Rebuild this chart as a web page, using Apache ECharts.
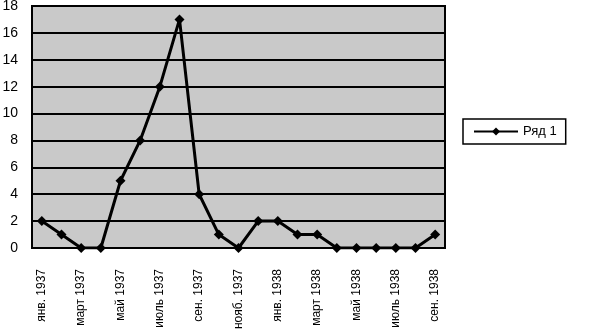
<!DOCTYPE html>
<html><head><meta charset="utf-8">
<script src="https://cdn.jsdelivr.net/npm/echarts@6/dist/echarts.min.js"></script>
<style>html,body{margin:0;padding:0;background:#fff}#c{width:596px;height:329px}</style>
</head><body><div id="c"></div>
<script>
const categories = ['янв. 1937','февр. 1937','март 1937','апр. 1937','май 1937','июнь 1937','июль 1937','авг. 1937','сен. 1937','окт. 1937','нояб. 1937','дек. 1937','янв. 1938','февр. 1938','март 1938','апр. 1938','май 1938','июнь 1938','июль 1938','авг. 1938','сен. 1938'];
const series1 = [2,1,0,0,5,8,12,17,4,1,0,2,2,1,1,0,0,0,0,0,1];
const seriesName = 'Ряд 1';
const yTicks = {min:0, max:18, interval:2};

const chart = echarts.init(document.getElementById('c'), null, {renderer:'canvas'});
chart.setOption({
  animation:false,
  backgroundColor:'#fff',
  grid:{left:32,right:151,top:6,bottom:81,containLabel:false,outerBoundsMode:'none',show:true,backgroundColor:'#c9c9c9',borderColor:'#000',borderWidth:2},
  legend:{
    data:[seriesName], left:463, top:119, orient:'vertical',
    borderColor:'#000', borderWidth:1.5, padding:[6,9,6,10],
    itemWidth:44, itemHeight:10, itemGap:4,
    textStyle:{fontFamily:'Liberation Sans, Arial',fontSize:13,color:'#000'}
  },
  xAxis:{
    type:'category', data:categories, boundaryGap:true,
    axisLine:{lineStyle:{color:'#000',width:2}},
    axisTick:{interval:1,length:6,lineStyle:{color:'#000',width:1.5}},
    axisLabel:{interval:1,rotate:90,margin:21,fontFamily:'Liberation Sans, Arial',fontSize:12,color:'#000'}
  },
  yAxis:{
    type:'value', min:yTicks.min, max:yTicks.max, interval:yTicks.interval,
    axisLine:{show:true,lineStyle:{color:'#000',width:2}},
    axisTick:{show:false},
    splitLine:{lineStyle:{color:'#000',width:2}},
    axisLabel:{margin:14,fontFamily:'Liberation Sans, Arial',fontSize:14,color:'#000'}
  },
  series:[{
    name:seriesName, type:'line', data:series1,
    symbol:'diamond', symbolSize:10,
    lineStyle:{color:'#000',width:3},
    itemStyle:{color:'#000'}
  }]
});
</script></body></html>
